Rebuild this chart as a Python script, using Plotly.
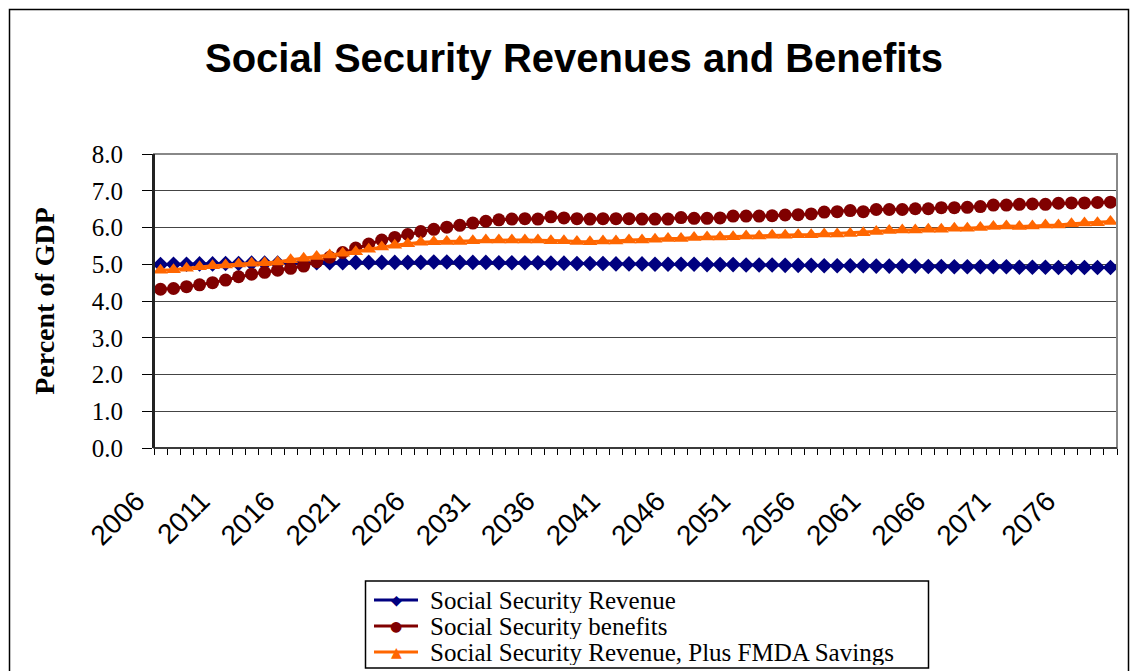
import plotly.graph_objects as go

years = [2006, 2007, 2008, 2009, 2010, 2011, 2012, 2013, 2014, 2015,
         2016, 2017, 2018, 2019, 2020, 2021, 2022, 2023, 2024, 2025,
         2026, 2027, 2028, 2029, 2030, 2031, 2032, 2033, 2034, 2035,
         2036, 2037, 2038, 2039, 2040, 2041, 2042, 2043, 2044, 2045,
         2046, 2047, 2048, 2049, 2050, 2051, 2052, 2053, 2054, 2055,
         2056, 2057, 2058, 2059, 2060, 2061, 2062, 2063, 2064, 2065,
         2066, 2067, 2068, 2069, 2070, 2071, 2072, 2073, 2074, 2075,
         2076, 2077, 2078, 2079]

revenue = [4.99, 5.00, 5.00, 5.01, 5.01, 5.02, 5.02, 5.03, 5.03, 5.03,
           5.04, 5.04, 5.04, 5.04, 5.04, 5.05, 5.05, 5.05, 5.05, 5.05,
           5.05, 5.06, 5.06, 5.05, 5.05, 5.05, 5.04, 5.04, 5.04, 5.04,
           5.03, 5.03, 5.02, 5.02, 5.02, 5.01, 5.01, 5.01, 5.00, 5.00,
           5.00, 5.00, 4.99, 4.99, 4.99, 4.98, 4.98, 4.98, 4.97, 4.97,
           4.97, 4.96, 4.96, 4.96, 4.96, 4.95, 4.95, 4.95, 4.95, 4.94,
           4.94, 4.93, 4.93, 4.93, 4.93, 4.93, 4.92, 4.92, 4.92, 4.91,
           4.91, 4.91, 4.91, 4.91]

benefits = [4.32, 4.34, 4.39, 4.44, 4.50, 4.57, 4.66, 4.73, 4.78, 4.84,
            4.89, 4.95, 5.07, 5.19, 5.32, 5.44, 5.55, 5.66, 5.73, 5.81,
            5.89, 5.95, 6.01, 6.06, 6.12, 6.17, 6.21, 6.23, 6.24, 6.23,
            6.29, 6.26, 6.24, 6.23, 6.24, 6.24, 6.24, 6.23, 6.23, 6.23,
            6.27, 6.25, 6.25, 6.26, 6.31, 6.31, 6.31, 6.32, 6.34, 6.35,
            6.37, 6.42, 6.43, 6.46, 6.43, 6.49, 6.49, 6.49, 6.51, 6.51,
            6.54, 6.54, 6.55, 6.57, 6.61, 6.61, 6.63, 6.64, 6.63, 6.66,
            6.67, 6.67, 6.68, 6.69]

revenue_fmda = [4.84, 4.85, 4.89, 4.93, 4.96, 4.98, 5.01, 5.03, 5.04, 5.06,
                5.12, 5.16, 5.21, 5.25, 5.30, 5.34, 5.41, 5.47, 5.52, 5.56,
                5.60, 5.61, 5.62, 5.62, 5.64, 5.66, 5.66, 5.66, 5.66, 5.66,
                5.64, 5.64, 5.62, 5.61, 5.63, 5.63, 5.66, 5.66, 5.68, 5.70,
                5.70, 5.73, 5.74, 5.74, 5.75, 5.77, 5.77, 5.79, 5.79, 5.80,
                5.80, 5.82, 5.82, 5.84, 5.86, 5.89, 5.92, 5.93, 5.93, 5.95,
                5.95, 5.98, 5.98, 6.00, 6.03, 6.04, 6.03, 6.04, 6.07, 6.07,
                6.10, 6.12, 6.13, 6.16]

tick_years = [2006, 2011, 2016, 2021, 2026, 2031, 2036, 2041, 2046, 2051,
              2056, 2061, 2066, 2071, 2076]
tick_labels = ["2006", "2011", "2016", "2021", "2026", "2031", "2036", "2041",
               "2046", "2051", "2056", "2061", "2066", "2071", "2076"]
y_ticks = [0, 1, 2, 3, 4, 5, 6, 7, 8]

series_names = ["Social Security Revenue", "Social Security benefits",
                "Social Security Revenue, Plus FMDA Savings"]
series_colors = ["#000080", "#800000", "#FF6600"]
series_symbols = ["diamond", "circle", "triangle-up"]
legend_glyphs = ["\u25C6", "\u25CF", "\u25B2"]

W, H = 1130, 671
L, R, T, B = 154, 1117, 154, 448
pw, ph = R - L, B - T


def px_x(p):
    return (p - L) / pw


def px_y(p):
    return (B - p) / ph


serif = "Liberation Serif, Times New Roman, serif"
sans = "Liberation Sans, Arial, sans-serif"

fig = go.Figure()
for name, vals, col, sym, msize in zip(series_names,
                                       [revenue, benefits, revenue_fmda],
                                       series_colors, series_symbols,
                                       [12, 13, 13]):
    fig.add_trace(go.Scatter(
        x=years, y=vals, name=name, mode="lines+markers",
        line=dict(color=col, width=3),
        marker=dict(symbol=sym, size=msize, color=col),
        showlegend=False,
    ))

fig.update_layout(
    width=W, height=H,
    margin=dict(l=L, r=W - R, t=T, b=H - B, pad=0),
    paper_bgcolor="white", plot_bgcolor="white",
    title=dict(text="<b>Social Security Revenues and Benefits</b>",
               font=dict(family=sans, size=40, color="black"),
               x=574 / W, xanchor="center", xref="container",
               y=1 - 58 / H, yanchor="middle", yref="container"),
    showlegend=False,
    xaxis=dict(
        range=[2005.5, 2079.5], showgrid=False, zeroline=False,
        tickmode="array", tickvals=tick_years, ticktext=tick_labels,
        tickangle=-45, ticks="", ticklen=0,
        tickfont=dict(family=sans, size=28, color="black"),
        ticklabelstandoff=30, ticklabelshift=-24,
        showline=False,
        minor=dict(tickmode="linear", tick0=2005.5, dtick=1, ticks="outside",
                   ticklen=6, tickcolor="black", tickwidth=1, showgrid=False),
    ),
    yaxis=dict(
        range=[0, 8], tickmode="array", tickvals=y_ticks,
        tickformat=".1f", showgrid=True, gridcolor="#444444", gridwidth=1,
        zeroline=False, ticks="outside", ticklen=10, tickcolor="black",
        tickfont=dict(family=serif, size=25, color="black"),
        showline=True, linecolor="#222222", linewidth=2,
        title=dict(text="<b>Percent of GDP</b>",
                   font=dict(family=serif, size=28, color="black"),
                   standoff=29),
        ticklabelstandoff=14,
    ),
)

# plot area border (gray) and axis lines
fig.add_shape(type="rect", xref="paper", yref="paper", x0=0, x1=1, y0=0, y1=1,
              line=dict(color="#888888", width=2), layer="above")
fig.add_shape(type="line", xref="paper", yref="paper", x0=0, x1=1, y0=0, y1=0,
              line=dict(color="#222222", width=1.5), layer="above")
fig.add_shape(type="line", xref="paper", yref="paper", x0=0, x1=0, y0=0, y1=1,
              line=dict(color="#222222", width=2), layer="above")
# outer chart frame
fig.add_shape(type="rect", xref="paper", yref="paper",
              x0=px_x(9.5), x1=px_x(1128.5), y0=px_y(700), y1=px_y(9.5),
              line=dict(color="black", width=1.5), layer="below")

# legend box
fig.add_shape(type="rect", xref="paper", yref="paper",
              x0=px_x(365.5), x1=px_x(928.5), y0=px_y(668), y1=px_y(581),
              line=dict(color="black", width=1.5), fillcolor="white",
              layer="below")
row_y = [600, 626, 652]
for name, col, glyph, ry in zip(series_names, series_colors, legend_glyphs, row_y):
    fig.add_shape(type="line", xref="paper", yref="paper",
                  x0=px_x(374), x1=px_x(418), y0=px_y(ry), y1=px_y(ry),
                  line=dict(color=col, width=3))
    fig.add_annotation(xref="paper", yref="paper", x=px_x(396), y=px_y(ry),
                       text=glyph, showarrow=False, xanchor="center",
                       yanchor="middle",
                       font=dict(family="DejaVu Sans", size=14, color=col))
    fig.add_annotation(xref="paper", yref="paper", x=px_x(429), y=px_y(ry),
                       text=name, showarrow=False, xanchor="left",
                       yanchor="middle", height=25, borderpad=0,
                       font=dict(family=serif, size=25, color="black"))

fig.write_html("out.html",
               config={"displayModeBar": False},
               post_script="document.body.style.margin='0';")
